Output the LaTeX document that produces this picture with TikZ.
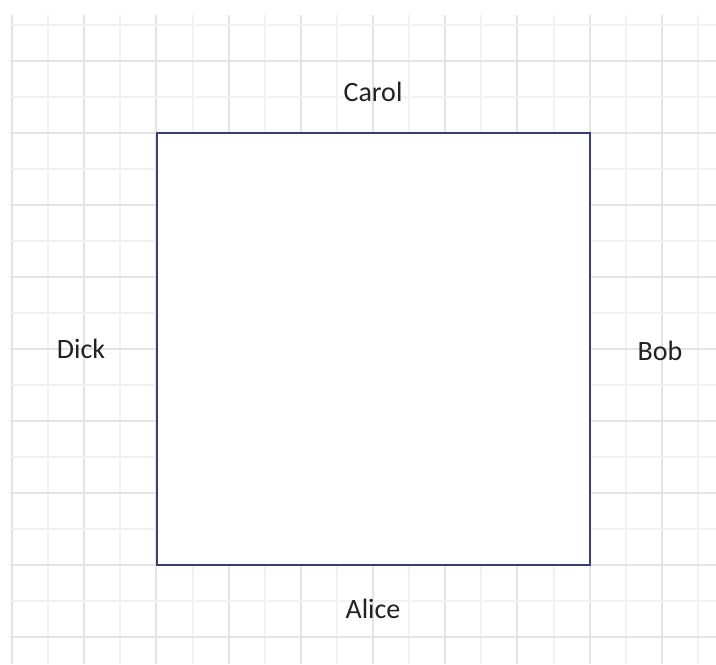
\documentclass[tikz,border=0pt]{standalone}
\usepackage{fontspec}
\setmainfont{Carlito}
\usepackage{xcolor}
\usepackage{tikz}
\usetikzlibrary{positioning,calc}
\definecolor{gridmajor}{HTML}{E4E4E4}
\definecolor{gridminor}{HTML}{F2F2F2}
\definecolor{boardline}{HTML}{3A4070}
\definecolor{nametext}{HTML}{222222}

\begin{document}
\begin{tikzpicture}[
  x=0.5pt, y=-0.5pt,
  majorline/.style={gridmajor, line width=1pt},
  minorline/.style={gridminor, line width=1pt},
  board/.style={draw=boardline, fill=white, line width=1pt,
    minimum width=216.5pt, minimum height=216pt, inner sep=0pt},
  player/.style={font=\fontsize{14}{17}\selectfont, text=nametext, inner sep=0pt}
]
\useasboundingbox[fill=white] (0,0) rectangle (716,664);

% grid
\foreach \k in {0,...,19}{
  \pgfmathsetmacro{\gx}{round(12+36.1*\k)}
  \ifodd\k
    \draw[minorline] (\gx,15) -- (\gx,664);
  \else
    \draw[majorline] (\gx,15) -- (\gx,664);
  \fi
}
\foreach \k in {0,...,17}{
  \pgfmathsetmacro{\gy}{round(24.5+36*\k)}
  \ifodd\k
    \draw[majorline] (10,\gy) -- (716,\gy);
  \else
    \draw[minorline] (10,\gy) -- (716,\gy);
  \fi
}

% table
\node[board] (table) at (373.5,349) {};

% seats
\node[player] (carol) at (373,92) {Carol};
\node[player] (dick) at (81,349) {Dick};
\node[player] (bob) at (660,351) {Bob};
\node[player] (alice) at (373,609) {Alice};
\end{tikzpicture}
\end{document}
